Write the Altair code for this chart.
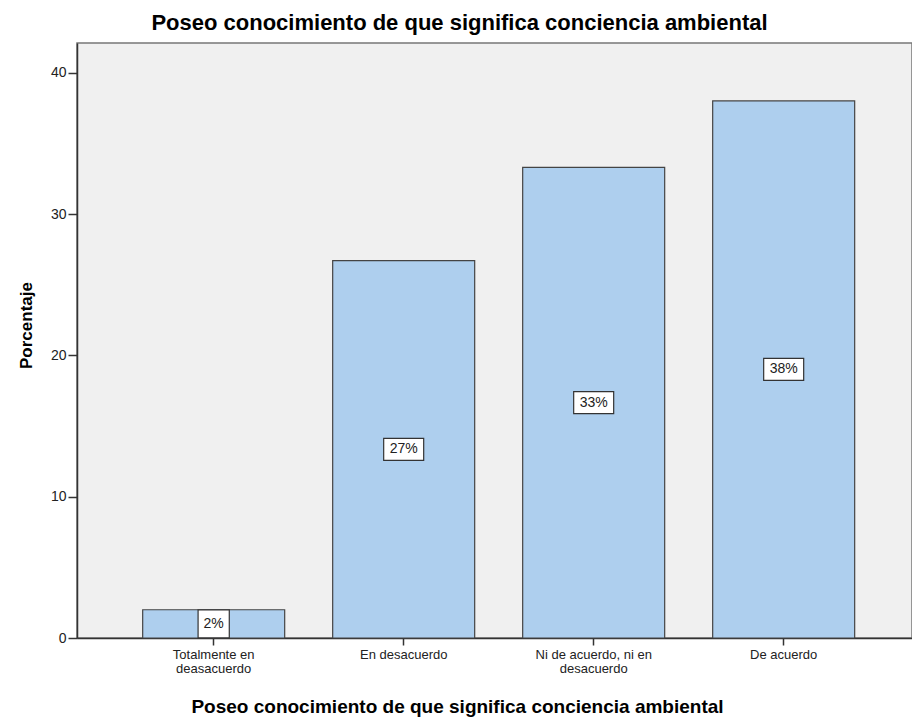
import altair as alt
import pandas as pd

categories = ["Totalmente en deasacuerdo", "En desacuerdo",
              "Ni de acuerdo, ni en desacuerdo", "De acuerdo"]
values = [2.0, 26.7, 33.3, 38.0]
labels = ["2%", "27%", "33%", "38%"]
tick_values = [0, 10, 20, 30, 40]

title_text = "Poseo conocimiento de que significa conciencia ambiental"

df = pd.DataFrame({"cat": categories, "value": values, "label": labels})

FONT = "Liberation Sans"

label_expr = (
    "datum.label == 'Totalmente en deasacuerdo' ? ['Totalmente en', 'deasacuerdo'] : "
    "datum.label == 'Ni de acuerdo, ni en desacuerdo' ? ['Ni de acuerdo, ni en', 'desacuerdo'] : datum.label"
)

x_enc = alt.X(
    "cat:N",
    sort=categories,
    scale=alt.Scale(paddingInner=0.2526, paddingOuter=0.3237, align=0.534),
    axis=alt.Axis(
        title=title_text,
        titleFont=FONT, titleFontSize=19, titleFontWeight="bold", titleColor="#000",
        titleX=380, titleY=74, titleBaseline="alphabetic",
        labelAngle=0, labelFont=FONT, labelFontSize=13, labelColor="#222",
        labelExpr=label_expr, labelLineHeight=14, labelPadding=3,
        tickColor="#333", tickSize=7, tickWidth=1.5,
        domainColor="#333", domainWidth=1.5,
    ),
)

y_scale = alt.Scale(domain=[0, 42.1], nice=False)
y_axis = alt.Axis(
    title="Porcentaje", values=tick_values,
    titleFont=FONT, titleFontSize=17, titleFontWeight="bold", titleColor="#000",
    titleX=-46, titleY=282, titleBaseline="alphabetic",
    labelFont=FONT, labelFontSize=14, labelColor="#222", labelPadding=2,
    tickColor="#333", tickSize=9, tickWidth=1.5,
    domainColor="#333", domainWidth=1.5, grid=False,
)

bars = alt.Chart(df).mark_bar(
    color="#aecfee", stroke="#444", strokeWidth=1.2
).encode(
    x=x_enc,
    y=alt.Y("value:Q", scale=y_scale, axis=y_axis),
)

base_mid = alt.Chart(df).transform_calculate(
    mid="datum.value / 2",
    box="length(datum.label) > 2 ? 'M-1,-0.55L1,-0.55L1,0.55L-1,0.55Z' : 'M-0.78,-0.7L0.78,-0.7L0.78,0.7L-0.78,0.7Z'",
)

boxes = base_mid.mark_point(
    filled=True, fill="white", stroke="#333", strokeWidth=1.2, opacity=1, size=1600
).encode(
    x=alt.X("cat:N", sort=categories),
    y=alt.Y("mid:Q", scale=y_scale),
    shape=alt.Shape("box:N", scale=None),
)

texts = base_mid.mark_text(
    font=FONT, fontSize=14, color="#222", baseline="middle", align="center"
).encode(
    x=alt.X("cat:N", sort=categories),
    y=alt.Y("mid:Q", scale=y_scale),
    text="label:N",
)

chart = alt.layer(bars, boxes, texts).properties(
    width=835, height=595,
    background="white",
    title=alt.TitleParams(
        text=title_text, font=FONT, fontSize=22, fontWeight="bold", color="#000",
        anchor="middle", dx=-35, dy=24, offset=10, baseline="bottom",
    ),
    autosize=alt.AutoSizeParams(type="none"),
    padding={"left": 77, "top": 43, "right": 0, "bottom": 84},
).configure_view(
    fill="#f0f0f0", stroke="#777", strokeWidth=1.5
)

chart.save("out.html", embed_options={"renderer": "svg", "actions": False})
